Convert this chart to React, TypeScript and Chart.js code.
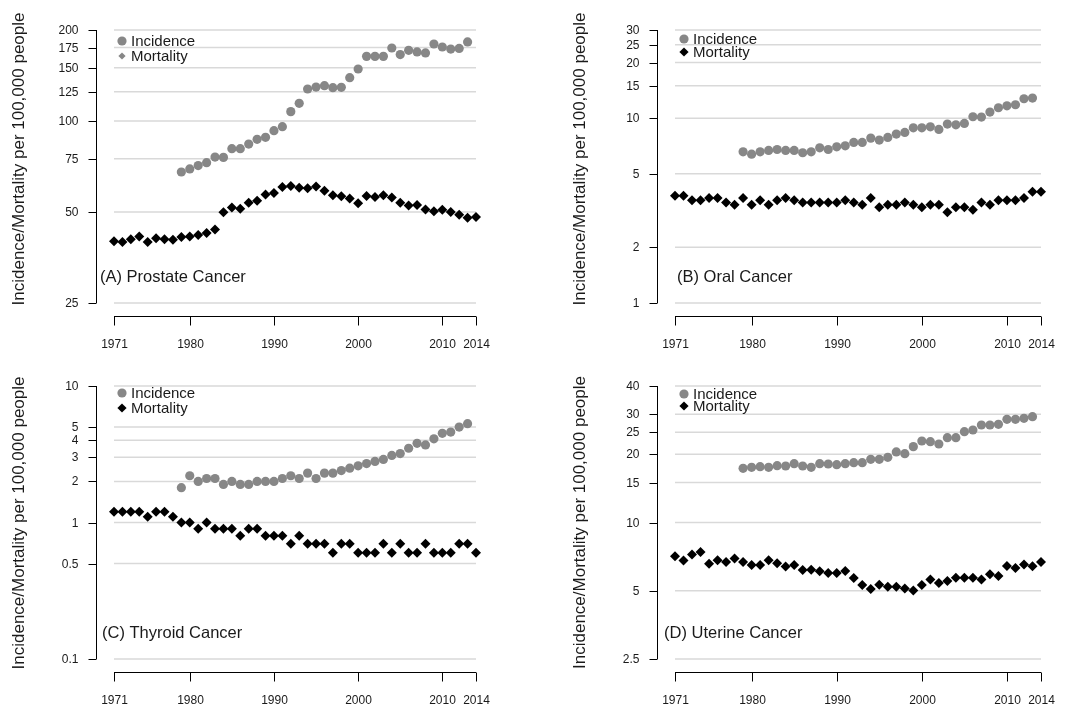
import React, { useEffect, useRef } from "react";
import { Chart, registerables } from "chart.js";

Chart.register(...registerables);

// ---------- data ----------
const mortalityYears = [
  1971, 1972, 1973, 1974, 1975, 1976, 1977, 1978, 1979, 1980,
  1981, 1982, 1983, 1984, 1985, 1986, 1987, 1988, 1989, 1990,
  1991, 1992, 1993, 1994, 1995, 1996, 1997, 1998, 1999, 2000,
  2001, 2002, 2003, 2004, 2005, 2006, 2007, 2008, 2009, 2010,
  2011, 2012, 2013, 2014,
];
const incidenceYears = [
  1979, 1980, 1981, 1982, 1983, 1984, 1985, 1986, 1987, 1988,
  1989, 1990, 1991, 1992, 1993, 1994, 1995, 1996, 1997, 1998,
  1999, 2000, 2001, 2002, 2003, 2004, 2005, 2006, 2007, 2008,
  2009, 2010, 2011, 2012, 2013,
];
const xTickLabels = [1971, 1980, 1990, 2000, 2010, 2014];

const prostateIncidence = [
  67.8, 69.4, 71.2, 72.8, 76.0, 75.8, 81.0, 81.0, 83.9, 87.0,
  88.3, 92.9, 95.8, 107.4, 114.4, 127.6, 129.5, 130.9, 128.9, 129.2,
  139.1, 148.6, 163.6, 163.6, 163.6, 174.4, 165.8, 171.3, 169.2, 167.9,
  179.8, 175.7, 173.0, 173.8, 182.6,
];
const prostateMortality = [
  40.0, 39.8, 40.6, 41.5, 39.8, 40.9, 40.6, 40.5, 41.3, 41.5,
  42.0, 42.6, 43.8, 49.9, 51.7, 51.3, 53.6, 54.5, 57.1, 57.8,
  60.5, 61.0, 60.2, 59.9, 60.7, 58.8, 56.8, 56.4, 55.4, 53.4,
  56.5, 56.1, 56.8, 55.8, 53.7, 52.5, 52.7, 51.0, 50.3, 50.9,
  50.0, 49.0, 47.9, 48.1,
];
const oralIncidence = [
  6.58, 6.39, 6.58, 6.69, 6.77, 6.69, 6.69, 6.5, 6.58, 6.91,
  6.77, 7.0, 7.09, 7.39, 7.39, 7.8, 7.61, 7.87, 8.2, 8.37,
  8.87, 8.87, 8.98, 8.69, 9.29, 9.21, 9.37, 10.18, 10.14, 10.79,
  11.39, 11.67, 11.82, 12.74, 12.85,
];
const oralMortality = [
  3.8, 3.8, 3.6, 3.6, 3.7, 3.7, 3.5, 3.4, 3.7, 3.4,
  3.6, 3.4, 3.6, 3.7, 3.6, 3.5, 3.5, 3.5, 3.5, 3.5,
  3.6, 3.5, 3.4, 3.7, 3.3, 3.4, 3.4, 3.5, 3.4, 3.3,
  3.4, 3.4, 3.1, 3.3, 3.3, 3.2, 3.5, 3.4, 3.6, 3.6,
  3.6, 3.7, 4.0, 4.0,
];
const thyroidIncidence = [
  1.8, 2.2, 2.0, 2.1, 2.1, 1.9, 2.0, 1.9, 1.9, 2.0,
  2.0, 2.0, 2.1, 2.2, 2.1, 2.3, 2.1, 2.3, 2.3, 2.4,
  2.5, 2.6, 2.7, 2.8, 2.9, 3.1, 3.2, 3.5, 3.8, 3.7,
  4.1, 4.5, 4.6, 5.0, 5.3,
];
const thyroidMortality = [
  1.2, 1.2, 1.2, 1.2, 1.1, 1.2, 1.2, 1.1, 1.0, 1.0,
  0.9, 1.0, 0.9, 0.9, 0.9, 0.8, 0.9, 0.9, 0.8, 0.8,
  0.8, 0.7, 0.8, 0.7, 0.7, 0.7, 0.6, 0.7, 0.7, 0.6,
  0.6, 0.6, 0.7, 0.6, 0.7, 0.6, 0.6, 0.7, 0.6, 0.6,
  0.6, 0.7, 0.7, 0.6,
];
const uterineIncidence = [
  17.33, 17.51, 17.63, 17.51, 17.81, 17.75, 18.18, 17.75, 17.51, 18.18,
  18.11, 17.99, 18.18, 18.36, 18.36, 18.99, 18.99, 19.38, 20.47, 20.12,
  21.61, 22.88, 22.73, 22.19, 23.67, 23.67, 25.16, 25.59, 26.92, 26.92,
  27.1, 28.51, 28.51, 28.8, 29.29,
];
const uterineMortality = [
  7.09, 6.79, 7.22, 7.41, 6.58, 6.81, 6.7, 6.93, 6.7, 6.5,
  6.5, 6.81, 6.61, 6.39, 6.5, 6.18, 6.19, 6.09, 5.99, 5.99,
  6.11, 5.69, 5.3, 5.09, 5.32, 5.21, 5.21, 5.11, 5.01, 5.3,
  5.6, 5.41, 5.52, 5.71, 5.71, 5.71, 5.6, 5.91, 5.81, 6.43,
  6.3, 6.52, 6.41, 6.7,
];

const prostateTicks = [25, 50, 75, 100, 125, 150, 175, 200];
const oralTicks = [1, 2, 5, 10, 15, 20, 25, 30];
const thyroidTicks = [0.1, 0.5, 1, 2, 3, 4, 5, 10];
const uterineTicks = [2.5, 5, 10, 15, 20, 25, 30, 40];

const yTitle = "Incidence/Mortality per 100,000 people";
const incidenceLabel = "Incidence";
const mortalityLabel = "Mortality";

// ---------- layout / style ----------
const FONT = '"Liberation Sans", Arial, Helvetica, sans-serif';
const INC_COLOR = "#878787";
const MORT_COLOR = "#000000";
const TEXT_COLOR = "#1a1a1a";
const GRID_COLOR = "#d9d9d9";

type PanelCfg = {
  key: string;
  left: number;
  top: number;
  width: number;
  height: number;
  pad: { left: number; right: number; top: number; bottom: number };
  yMin: number;
  yMax: number;
  yTicks: number[];
  incidence: number[];
  mortality: number[];
  title: string;
  titleX: number;
  titleY: number;
  legendX: number;
  legendY1: number;
  legendY2: number;
  legendMortGray: boolean;
  yTitleX: number;
  yTitleY: number;
};

const PANELS: PanelCfg[] = [
  {
    key: "A", left: 0, top: 0, width: 535, height: 353,
    pad: { left: 114, right: 59, top: 30, bottom: 50 },
    yMin: 25, yMax: 200, yTicks: prostateTicks,
    incidence: prostateIncidence, mortality: prostateMortality,
    title: "(A) Prostate Cancer", titleX: 100, titleY: 277,
    legendX: 122, legendY1: 41, legendY2: 56, legendMortGray: true,
    yTitleX: 19, yTitleY: 159,
  },
  {
    key: "B", left: 535, top: 0, width: 536, height: 353,
    pad: { left: 140, right: 30, top: 30, bottom: 50 },
    yMin: 1, yMax: 30, yTicks: oralTicks,
    incidence: oralIncidence, mortality: oralMortality,
    title: "(B) Oral Cancer", titleX: 142, titleY: 277,
    legendX: 149, legendY1: 39, legendY2: 52, legendMortGray: false,
    yTitleX: 45.5, yTitleY: 159,
  },
  {
    key: "C", left: 0, top: 353, width: 535, height: 353,
    pad: { left: 114, right: 59, top: 33, bottom: 47 },
    yMin: 0.1, yMax: 10, yTicks: thyroidTicks,
    incidence: thyroidIncidence, mortality: thyroidMortality,
    title: "(C) Thyroid Cancer", titleX: 102, titleY: 280,
    legendX: 122, legendY1: 40, legendY2: 55, legendMortGray: false,
    yTitleX: 19, yTitleY: 170,
  },
  {
    key: "D", left: 535, top: 353, width: 536, height: 353,
    pad: { left: 140, right: 30, top: 33, bottom: 47 },
    yMin: 2.5, yMax: 40, yTicks: uterineTicks,
    incidence: uterineIncidence, mortality: uterineMortality,
    title: "(D) Uterine Cancer", titleX: 129, titleY: 280,
    legendX: 149, legendY1: 41, legendY2: 53, legendMortGray: false,
    yTitleX: 45.5, yTitleY: 169.5,
  },
];

function drawDiamond(ctx: CanvasRenderingContext2D, x: number, y: number, r: number, color: string) {
  ctx.beginPath();
  ctx.moveTo(x, y - r);
  ctx.lineTo(x + r, y);
  ctx.lineTo(x, y + r);
  ctx.lineTo(x - r, y);
  ctx.closePath();
  ctx.fillStyle = color;
  ctx.fill();
}

const rAxesPlugin = {
  id: "rAxes",
  beforeDatasetsDraw(chart: any, _args: any, opts: any) {
    const { ctx, chartArea: a, scales } = chart;
    const y = scales.y;
    ctx.save();
    ctx.strokeStyle = GRID_COLOR;
    ctx.lineWidth = 1.5;
    for (const t of opts.cfg.yTicks) {
      const py = y.getPixelForValue(t);
      ctx.beginPath();
      ctx.moveTo(a.left, py);
      ctx.lineTo(a.right, py);
      ctx.stroke();
    }
    ctx.restore();
  },
  afterDatasetsDraw(chart: any, _args: any, opts: any) {
    const cfg: PanelCfg = opts.cfg;
    const { ctx, chartArea: a, scales } = chart;
    const x = scales.x;
    const y = scales.y;
    ctx.save();
    ctx.strokeStyle = "#000";
    ctx.lineWidth = 1;
    ctx.fillStyle = TEXT_COLOR;

    // y axis (R style, offset)
    const ax = Math.round(a.left - 18.5) + 0.5;
    const yTop = y.getPixelForValue(cfg.yMax);
    const yBot = y.getPixelForValue(cfg.yMin);
    ctx.beginPath();
    ctx.moveTo(ax, yTop);
    ctx.lineTo(ax, yBot);
    ctx.stroke();
    ctx.font = `12px ${FONT}`;
    ctx.textAlign = "right";
    ctx.textBaseline = "middle";
    for (const t of cfg.yTicks) {
      const py = Math.round(y.getPixelForValue(t)) + 0.5;
      ctx.beginPath();
      ctx.moveTo(ax, py);
      ctx.lineTo(ax - 8, py);
      ctx.stroke();
      ctx.fillText(String(t), ax - 18, py + 0.5);
    }

    // x axis (R style, offset)
    const axY = Math.round(a.bottom + 13) + 0.5;
    const x0 = x.getPixelForValue(xTickLabels[0]);
    const x1 = x.getPixelForValue(xTickLabels[xTickLabels.length - 1]);
    ctx.beginPath();
    ctx.moveTo(x0, axY);
    ctx.lineTo(x1, axY);
    ctx.stroke();
    ctx.textAlign = "center";
    for (const t of xTickLabels) {
      const px = Math.round(x.getPixelForValue(t)) + 0.5;
      ctx.beginPath();
      ctx.moveTo(px, axY);
      ctx.lineTo(px, axY + 9);
      ctx.stroke();
      ctx.fillText(String(t), px, a.bottom + 42);
    }

    // y title
    ctx.save();
    ctx.translate(cfg.yTitleX, cfg.yTitleY);
    ctx.rotate(-Math.PI / 2);
    ctx.font = `17px ${FONT}`;
    ctx.textAlign = "center";
    ctx.textBaseline = "middle";
    ctx.fillText(yTitle, 0, 0);
    ctx.restore();

    // panel title
    ctx.font = `16.5px ${FONT}`;
    ctx.textAlign = "left";
    ctx.textBaseline = "middle";
    ctx.fillText(cfg.title, cfg.titleX, cfg.titleY);

    // legend
    const ds = chart.data.datasets;
    ctx.beginPath();
    ctx.arc(cfg.legendX, cfg.legendY1, 4.6, 0, Math.PI * 2);
    ctx.fillStyle = INC_COLOR;
    ctx.fill();
    if (cfg.legendMortGray) drawDiamond(ctx, cfg.legendX, cfg.legendY2, 3.6, INC_COLOR);
    else drawDiamond(ctx, cfg.legendX, cfg.legendY2, 4.6, MORT_COLOR);
    ctx.fillStyle = TEXT_COLOR;
    ctx.font = `15px ${FONT}`;
    ctx.textAlign = "left";
    ctx.textBaseline = "middle";
    ctx.fillText(ds[0].label, cfg.legendX + 9, cfg.legendY1 + 0.5);
    ctx.fillText(ds[1].label, cfg.legendX + 9, cfg.legendY2 + 0.5);
    ctx.restore();
  },
};

function PanelChart({ cfg }: { cfg: PanelCfg }) {
  const ref = useRef<HTMLCanvasElement | null>(null);
  useEffect(() => {
    if (!ref.current) return;
    const chart = new Chart(ref.current, {
      type: "scatter",
      data: {
        datasets: [
          {
            label: incidenceLabel,
            data: incidenceYears.map((yr, i) => ({ x: yr, y: cfg.incidence[i] })),
            pointStyle: "circle",
            pointRadius: 4.6,
            pointBackgroundColor: INC_COLOR,
            pointBorderWidth: 0,
            pointBorderColor: INC_COLOR,
            showLine: false,
            clip: false as any,
          },
          {
            label: mortalityLabel,
            data: mortalityYears.map((yr, i) => ({ x: yr, y: cfg.mortality[i] })),
            pointStyle: "rectRot",
            pointRadius: 5,
            pointBackgroundColor: MORT_COLOR,
            pointBorderWidth: 0,
            pointBorderColor: MORT_COLOR,
            showLine: false,
            clip: false as any,
          },
        ],
      },
      options: {
        animation: false,
        responsive: false,
        devicePixelRatio: 1,
        events: [],
        layout: { padding: cfg.pad },
        plugins: {
          legend: { display: false },
          tooltip: { enabled: false },
          rAxes: { cfg },
        } as any,
        scales: {
          x: { type: "linear", min: 1971, max: 2014, display: false },
          y: { type: "logarithmic", min: cfg.yMin, max: cfg.yMax, display: false },
        },
      },
      plugins: [rAxesPlugin],
    });
    return () => chart.destroy();
  }, [cfg]);
  return (
    <canvas
      ref={ref}
      width={cfg.width}
      height={cfg.height}
      style={{ position: "absolute", left: cfg.left, top: cfg.top, width: cfg.width, height: cfg.height }}
    />
  );
}

export default function App() {
  return (
    <div style={{ position: "fixed", left: 0, top: 0, width: 1071, height: 706, background: "#fff" }}>
      {PANELS.map((p) => (
        <PanelChart key={p.key} cfg={p} />
      ))}
    </div>
  );
}
